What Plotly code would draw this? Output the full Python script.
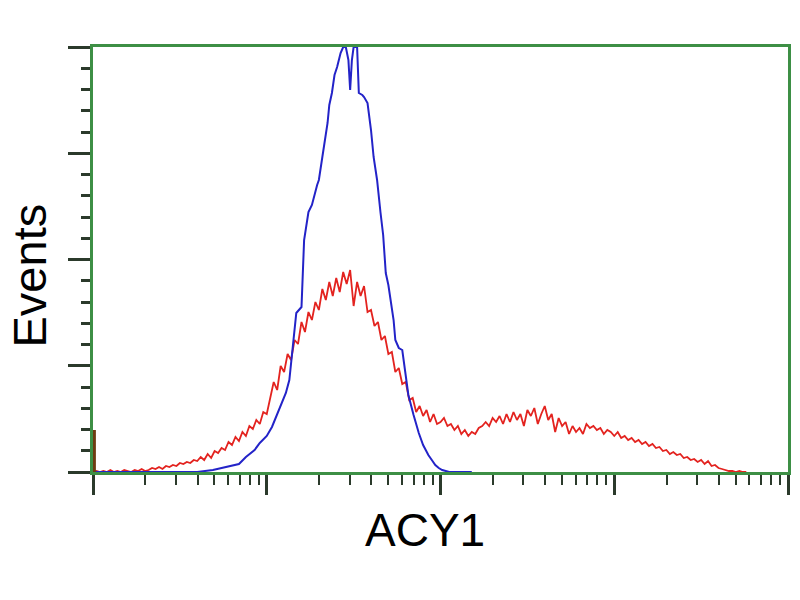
import plotly.graph_objects as go

# ---- data (log10 fluorescence position, event counts) ----
RED_LOG = [0.00, 0.02, 0.04, 0.06, 0.08, 0.10, 0.12, 0.14, 0.16, 0.18,
           0.20, 0.22, 0.24, 0.26, 0.28, 0.30, 0.32, 0.34, 0.36, 0.38,
           0.40, 0.42, 0.44, 0.46, 0.48, 0.50, 0.52, 0.54, 0.56, 0.58,
           0.60, 0.62, 0.64, 0.66, 0.68, 0.70, 0.72, 0.74, 0.76, 0.78,
           0.80, 0.82, 0.84, 0.86, 0.88, 0.90, 0.92, 0.94, 0.96, 0.98,
           1.00, 1.02, 1.04, 1.06, 1.08, 1.10, 1.12, 1.14, 1.16, 1.18,
           1.20, 1.22, 1.24, 1.26, 1.28, 1.30, 1.32, 1.34, 1.36, 1.38,
           1.40, 1.42, 1.44, 1.46, 1.48, 1.50, 1.52, 1.54, 1.56, 1.58,
           1.60, 1.62, 1.64, 1.66, 1.68, 1.70, 1.72, 1.74, 1.76, 1.78,
           1.80, 1.82, 1.84, 1.86, 1.88, 1.90, 1.92, 1.94, 1.96, 1.98,
           2.00, 2.02, 2.04, 2.06, 2.08, 2.10, 2.12, 2.14, 2.16, 2.18,
           2.20, 2.22, 2.24, 2.26, 2.28, 2.30, 2.32, 2.34, 2.36, 2.38,
           2.40, 2.42, 2.44, 2.46, 2.48, 2.50, 2.52, 2.54, 2.56, 2.58,
           2.60, 2.62, 2.64, 2.66, 2.68, 2.70, 2.72, 2.74, 2.76, 2.78,
           2.80, 2.82, 2.84, 2.86, 2.88, 2.90, 2.92, 2.94, 2.96, 2.98,
           3.00, 3.02, 3.04, 3.06, 3.08, 3.10, 3.12, 3.14, 3.16, 3.18,
           3.20, 3.22, 3.24, 3.26, 3.28, 3.30, 3.32, 3.34, 3.36, 3.38,
           3.40, 3.42, 3.44, 3.46, 3.48, 3.50, 3.52, 3.54, 3.56, 3.58,
           3.60, 3.62, 3.64, 3.66, 3.68, 3.70, 3.72, 3.74, 3.76]
RED_COUNTS = [0, 1, 0, 1, 0, 2, 0, 1, 0, 2,
              1, 0, 2, 1, 3, 1, 2, 4, 3, 5,
              3, 6, 5, 7, 6, 9, 8, 10, 9, 12,
              11, 15, 12, 18, 14, 21, 19, 24, 22, 30,
              27, 35, 31, 40, 36, 46, 43, 52, 48, 60,
              58, 74, 90, 82, 106, 100, 118, 112, 132, 128,
              150, 140, 160, 152, 170, 162, 183, 172, 190, 176,
              194, 180, 200, 188, 202, 166, 190, 176, 186, 160,
              162, 146, 150, 132, 136, 118, 120, 100, 104, 88,
              90, 72, 74, 60, 66, 56, 62, 50, 58, 48,
              50, 54, 46, 48, 42, 46, 38, 42, 36, 40,
              38, 44, 46, 50, 46, 54, 50, 56, 48, 58,
              50, 60, 52, 58, 46, 62, 56, 64, 48, 58,
              66, 52, 58, 40, 54, 46, 50, 38, 46, 40,
              44, 38, 48, 44, 46, 42, 44, 38, 42, 40,
              36, 40, 34, 36, 32, 34, 30, 32, 28, 30,
              26, 28, 24, 25, 21, 22, 18, 20, 17, 18,
              14, 15, 12, 13, 10, 12, 8, 11, 6, 7,
              4, 3, 2, 1, 1, 0, 1, 0, 0]

BLUE_LOG = [0.00, 0.60, 0.69, 0.77, 0.84, 0.88, 0.93, 0.96, 1.00, 1.03,
            1.07, 1.11, 1.13, 1.15, 1.17, 1.20, 1.215, 1.24, 1.26, 1.29,
            1.30, 1.32, 1.335, 1.35, 1.36, 1.375, 1.39, 1.405, 1.425, 1.44,
            1.455, 1.47, 1.48, 1.49, 1.50, 1.52, 1.53, 1.55, 1.56, 1.58,
            1.60, 1.615, 1.635, 1.645, 1.655, 1.67, 1.685, 1.70, 1.71, 1.73,
            1.74, 1.76, 1.78, 1.80, 1.815, 1.845, 1.875, 1.90, 1.93, 1.95,
            1.97, 1.99, 2.01, 2.05, 2.18]
BLUE_COUNTS = [0, 0, 2, 5, 8, 15, 22, 29, 36, 45,
               62, 79, 92, 127, 159, 165, 232, 260, 267, 287,
               292, 315, 332, 349, 367, 379, 397, 405, 419, 425,
               425, 412, 382, 412, 425, 425, 379, 377, 375, 369,
               342, 315, 292, 272, 259, 237, 199, 187, 175, 152,
               132, 124, 122, 99, 77, 57, 39, 27, 17, 12,
               7, 4, 2, 0, 0]

SPIKE_LOG = [0.008, 0.008]
SPIKE_COUNTS = [0, 42]

X_MAJOR = [1, 10, 100, 1000, 10000]
X_MINOR = [2, 3, 4, 5, 6, 7, 8, 9,
           20, 30, 40, 50, 60, 70, 80, 90,
           200, 300, 400, 500, 600, 700, 800, 900,
           2000, 3000, 4000, 5000, 6000, 7000, 8000, 9000]
Y_MAX = 425

GREEN = "#3d8f45"
TICK = "#2b3a2b"

fig = go.Figure()
fig.add_trace(go.Scatter(x=[10 ** v for v in RED_LOG], y=RED_COUNTS, mode="lines",
                         line=dict(color="#e3231f", width=1.8)))
fig.add_trace(go.Scatter(x=[10 ** v for v in BLUE_LOG], y=BLUE_COUNTS, mode="lines",
                         line=dict(color="#2323c8", width=2.0)))
fig.add_trace(go.Scatter(x=[10 ** v for v in SPIKE_LOG], y=SPIKE_COUNTS, mode="lines",
                         line=dict(color="#6e3b12", width=3)))

fig.update_layout(
    width=800, height=600,
    margin=dict(l=93, r=9, t=47, b=128),
    paper_bgcolor="white", plot_bgcolor="white",
    showlegend=False,
    xaxis=dict(type="log", range=[0, 4], showgrid=False, zeroline=False,
               showline=True, linecolor=GREEN, linewidth=3, mirror=True,
               tickmode="array", tickvals=X_MAJOR, showticklabels=False,
               ticks="outside", ticklen=20, tickwidth=2.5, tickcolor=TICK,
               minor=dict(tickmode="array", tickvals=X_MINOR, ticks="outside",
                          ticklen=10, tickwidth=2, tickcolor=TICK, showgrid=False)),
    yaxis=dict(range=[0, Y_MAX], showgrid=False, zeroline=False,
               showline=True, linecolor=GREEN, linewidth=3, mirror=True,
               tick0=0, dtick=Y_MAX / 4, showticklabels=False,
               ticks="outside", ticklen=22, tickwidth=3, tickcolor=TICK,
               minor=dict(dtick=Y_MAX / 20, ticks="outside", ticklen=9,
                          tickwidth=2.5, tickcolor=TICK, showgrid=False)),
    annotations=[
        dict(text="Events", xref="paper", yref="paper", x=0, y=0.5,
             xanchor="center", yanchor="middle", xshift=-64, yshift=-16,
             textangle=-90, showarrow=False,
             font=dict(family="Liberation Sans, Arial", size=47, color="black")),
        dict(text="ACY1", xref="paper", yref="paper", x=0.5, y=0,
             xanchor="center", yanchor="middle", xshift=-16, yshift=-58,
             showarrow=False,
             font=dict(family="Liberation Sans, Arial", size=46, color="black")),
    ],
)

fig.write_html("out.html", config={"displayModeBar": False},
               post_script="document.body.style.margin='0';")
